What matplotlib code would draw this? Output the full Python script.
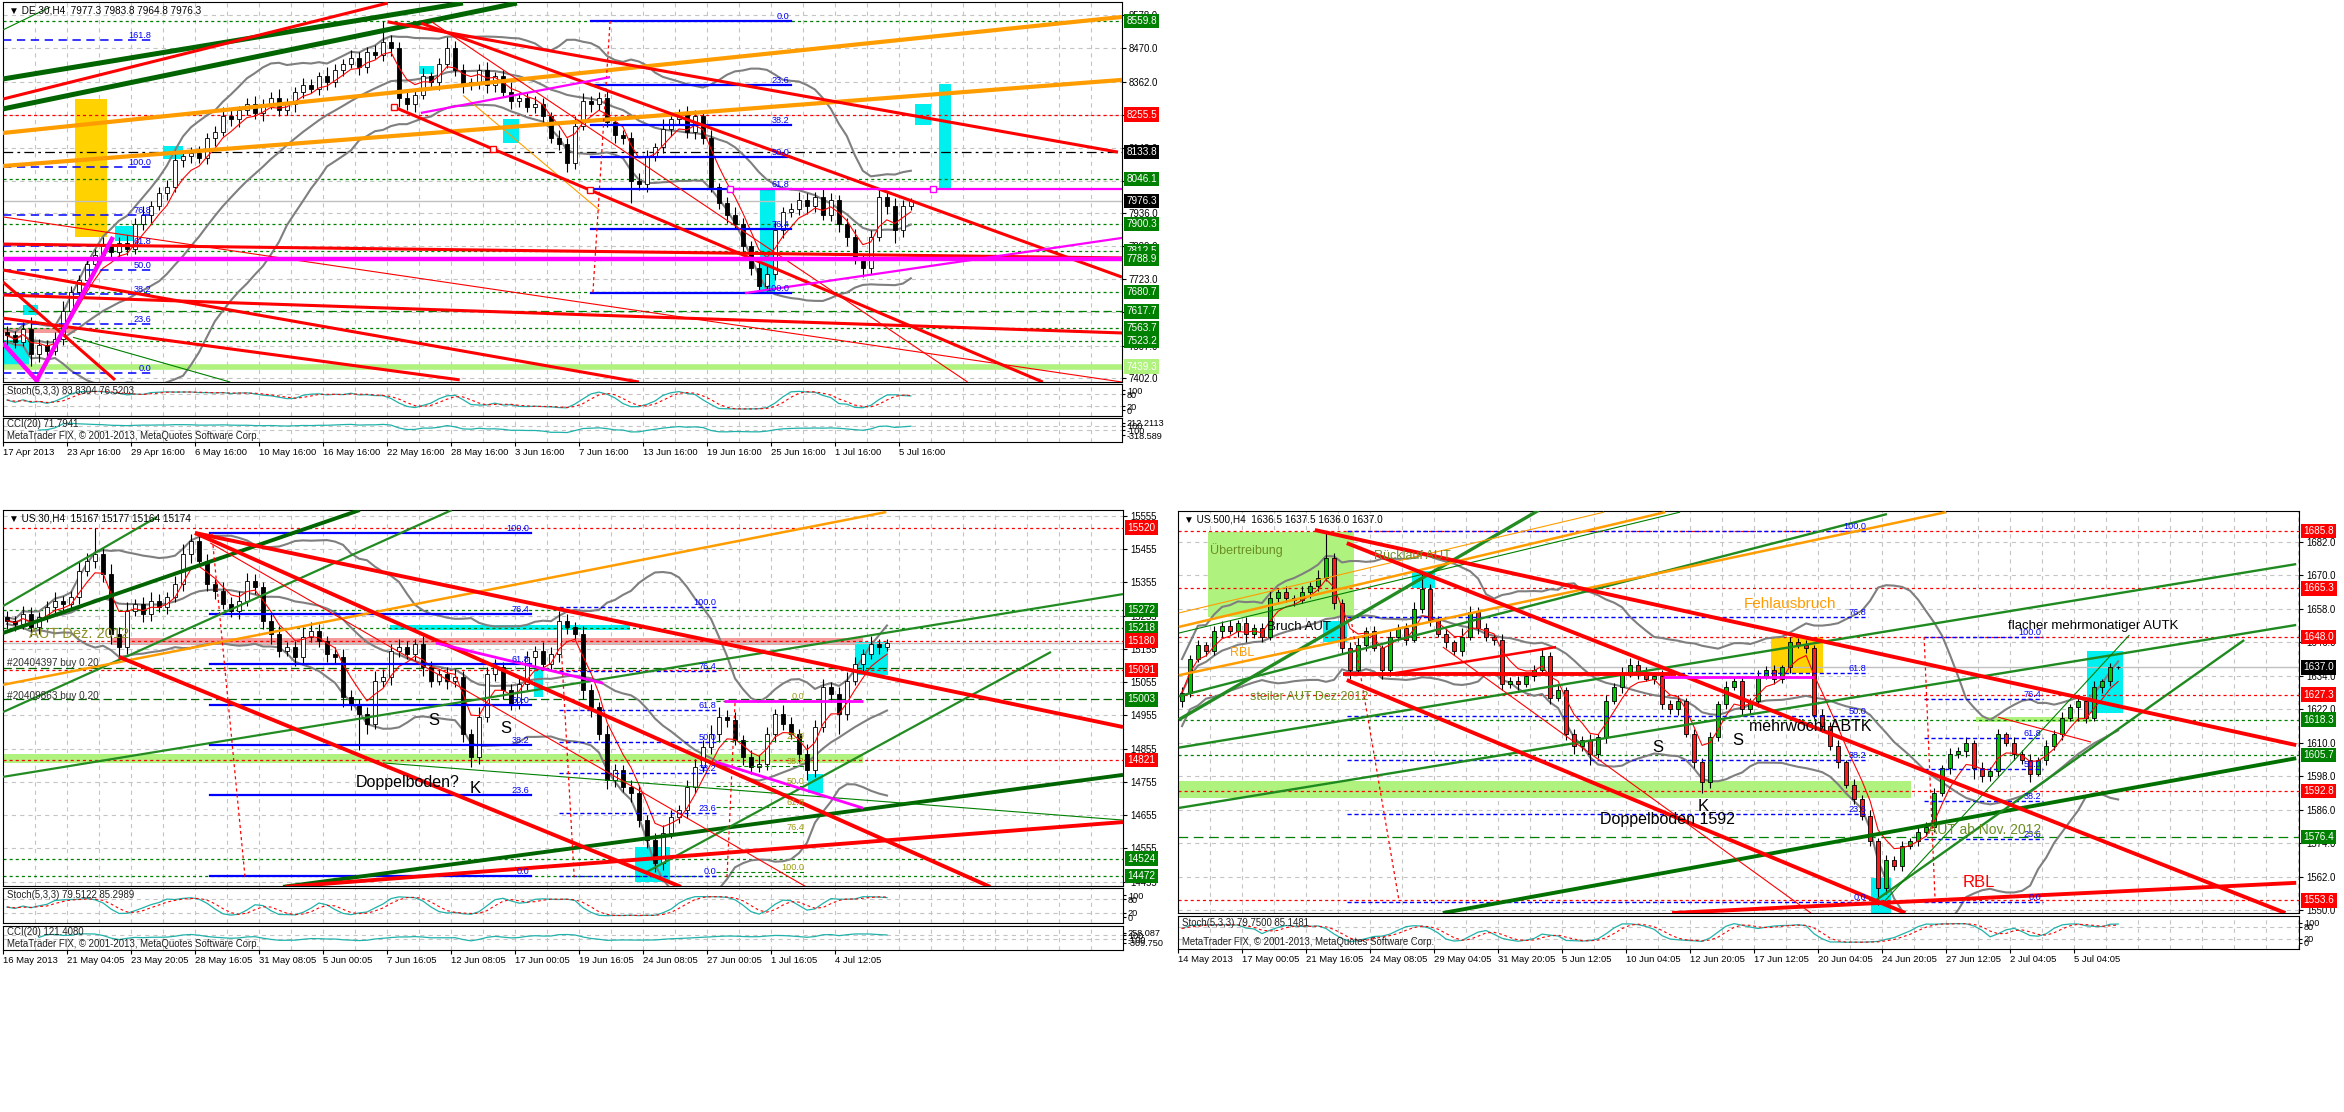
import numpy as np
import pandas as pd
import matplotlib
matplotlib.use("Agg")
import matplotlib.pyplot as plt
from matplotlib.patches import Rectangle

# ================= DE.30 H4 (top chart) =================
de_title = "\u25bc DE.30,H4  7977.3 7983.8 7964.8 7976.3"
de_stoch_txt = "Stoch(5,3,3) 83.8304 76.5203"
de_cci_txt = "CCI(20) 71.7941"
de_open0 = 7550
de_close = [7540, 7520, 7560, 7480, 7510, 7490, 7530, 7620, 7680, 7720,
            7770, 7800, 7830, 7810, 7840, 7820, 7900, 7930, 7960, 8000,
            8020, 8110, 8120, 8130, 8115, 8180, 8200, 8250, 8240, 8270,
            8290, 8260, 8290, 8310, 8270, 8290, 8330, 8350, 8340, 8380,
            8360, 8400, 8420, 8440, 8410, 8460, 8450, 8490, 8470, 8310,
            8290, 8320, 8380, 8360, 8420, 8470, 8400, 8350, 8360, 8400,
            8350, 8380, 8330, 8300, 8310, 8280, 8290, 8250, 8180, 8160,
            8100, 8220, 8300, 8290, 8310, 8230, 8190, 8180, 8040, 8030,
            8120, 8150, 8210, 8240, 8260, 8200, 8250, 8180, 8020, 7970,
            7930, 7900, 7830, 7760, 7700, 7740, 7880, 7940, 7950, 7980,
            7960, 7990, 7930, 7980, 7900, 7860, 7790, 7760, 7860, 7990,
            7960, 7880, 7960, 7976.3]
de_hi_ext = [20, 15, 25, 40, 20, 15, 20, 30, 20, 15,
             25, 20, 30, 15, 20, 25, 20, 30, 15, 20,
             25, 30, 15, 20, 25, 15, 20, 30, 20, 15,
             20, 25, 15, 20, 30, 20, 15, 25, 20, 15,
             30, 20, 15, 25, 20, 15, 20, 70, 25, 20,
             30, 20, 25, 15, 20, 37, 25, 20, 15, 20,
             25, 15, 20, 30, 15, 20, 25, 20, 15, 25,
             20, 30, 25, 15, 20, 25, 20, 15, 20, 25,
             20, 15, 30, 20, 15, 25, 20, 20, 25, 15,
             20, 25, 20, 15, 20, 25, 30, 15, 20, 25,
             20, 15, 25, 20, 15, 20, 25, 15, 20, 20,
             15, 25, 20, 8]
de_lo_ext = [30, 20, 15, 40, 25, 20, 15, 20, 25, 15,
             20, 25, 15, 20, 25, 20, 15, 20, 25, 15,
             20, 15, 25, 20, 15, 20, 25, 15, 20, 25,
             15, 20, 25, 15, 20, 15, 25, 20, 15, 20,
             25, 15, 20, 15, 25, 20, 15, 20, 25, 30,
             20, 25, 15, 20, 25, 15, 20, 25, 15, 20,
             25, 20, 15, 25, 20, 15, 20, 25, 15, 20,
             30, 20, 15, 25, 20, 15, 25, 20, 72, 20,
             25, 15, 20, 25, 15, 20, 25, 20, 15, 20,
             25, 15, 20, 25, 20, 15, 20, 25, 15, 20,
             25, 20, 15, 20, 25, 30, 20, 30, 20, 15,
             25, 40, 20, 12]
de_dates = ["17 Apr 2013", "23 Apr 16:00", "29 Apr 16:00", "6 May 16:00", "10 May 16:00",
            "16 May 16:00", "22 May 16:00", "28 May 16:00", "3 Jun 16:00", "7 Jun 16:00",
            "13 Jun 16:00", "19 Jun 16:00", "25 Jun 16:00", "1 Jul 16:00", "5 Jul 16:00"]
de_ticks = [7402.0, 7507.0, 7616.0, 7723.0, 7829.0, 7936.0, 8042.0, 8148.0, 8255.0, 8362.0, 8470.0, 8578.0]
de_lvl_green_dot = [8559.8, 8046.1, 7900.3, 7812.5, 7680.7, 7563.7, 7523.2]
de_lvl_green_dash = [7617.7]
de_lvl_red_dot = [8255.5]
de_lvl_black_dashdot = [8133.8]
de_last = [7976.3]
de_lvl_lime = [7439.3]
de_tag_green = [8559.8, 8046.1, 7900.3, 7812.5, 7788.9, 7680.7, 7617.7, 7563.7, 7523.2]
de_tag_red = [8255.5]
de_tag_black = [8133.8, 7976.3]
de_tag_lime = [7439.3]
de_green_thick = [(-0.5, 8371, 57.0, 8617), (-0.5, 8274, 63.75, 8617)]
de_green_thin = [(-0.5, 8530, 5.4, 8604), (8.25, 7534, 27.9, 7389)]
de_red_thick = [(-0.5, 8306, 47.6, 8617), (47.6, 8556, 138.9, 8134), (48.4, 8280, 129.5, 7389),
                (51.75, 8552, 139.4, 7729), (-0.5, 7836, 139.4, 7791), (-0.5, 7671, 139.4, 7548),
                (-0.5, 7752, 79.0, 7389), (-0.5, 7596, 56.6, 7396), (-0.5, 7713, 13.5, 7396)]
de_red_thin = [(-0.5, 7924, 139.4, 7389), (53.1, 8556, 120.1, 7389)]
de_red_dotted = [(75.4, 8559, 73.25, 7677)]
de_red_marks = [(48.4, 8280), (60.75, 8144), (72.9, 8011)]
de_orange_thick = [(-0.5, 8196, 139.4, 8572), (-0.5, 8089, 139.4, 8368)]
de_orange_thin = [(57.0, 8318, 74.1, 7945)]
de_magenta = [(90.4, 8014.5, 139.4, 8014.5), (92.25, 7677, 139.4, 7856), (51.75, 8261, 75.4, 8377)]
de_magenta_thick = [(-0.5, 7788.9, 139.4, 7788.9), (3.6, 7389, 13.25, 7859), (-0.5, 7515, 3.9, 7389)]
de_magenta_marks = [(90.4, 8014.5), (115.75, 8014.5)]
de_cyan = [(19.5, 22, 8111, 8153), (13.5, 16, 7845, 7894), (2, 3.9, 7606, 7639), (-0.5, 2.75, 7444, 7525),
           (51.5, 53.4, 8387, 8413), (62, 64, 8163, 8241), (94.1, 96, 7680, 8014),
           (113.5, 115.5, 8222, 8290), (116.5, 118, 8017, 8355)]
de_gold = [(8.5, 12.5, 7859, 8306)]
de_salmon = [(-0.5, 8.5, 7548, 7564)]
de_fib_dashed = (-0.5, 18.25, 7418.0, 8085.7)
de_fib_dashed_lv = [0.0, 23.6, 38.2, 50.0, 61.8, 76.8, 100.0, 161.8]
de_fib_solid = (73, 98, 8559.8, 7677.5)
de_fib_solid_lv = [0.0, 23.6, 38.2, 50.0, 61.8, 76.4, 100.0]
de_cci_ticks = [212.2113, 100, -100, -318.589]
de_cci_labels = ["212.2113", "100", "-100", "-318.589"]

# ================= US.30 H4 (bottom left) =================
bl_title = "\u25bc US.30,H4  15167 15177 15164 15174"
bl_stoch_txt = "Stoch(5,3,3) 79.5122 85.2989"
bl_cci_txt = "CCI(20) 121.4080"
bl_open0 = 15250
bl_close = [15240, 15230, 15260, 15220, 15250, 15280, 15300, 15290, 15310, 15390,
            15420, 15440, 15380, 15200, 15160, 15270, 15290, 15260, 15300, 15280,
            15310, 15350, 15440, 15480, 15420, 15350, 15330, 15290, 15270, 15300,
            15360, 15340, 15240, 15200, 15150, 15160, 15130, 15190, 15210, 15180,
            15140, 15130, 15010, 14990, 14960, 14930, 15060, 15070, 15150, 15160,
            15140, 15170, 15100, 15060, 15080, 15060, 15070, 14900, 14830, 14950,
            15080, 15100, 15030, 14990, 15050, 15130, 15150, 15110, 15140, 15240,
            15220, 15200, 15030, 14980, 14900, 14760, 14790, 14740, 14720, 14640,
            14580, 14510, 14600, 14650, 14670, 14740, 14800, 14860, 14900, 14950,
            14940, 14880, 14830, 14800, 14810, 14900, 14960, 14930, 14900, 14840,
            14790, 14920, 15040, 15020, 14960, 15060, 15110, 15140, 15170, 15160,
            15174]
bl_hi_ext = [20, 15, 25, 20, 15, 20, 25, 15, 20, 30,
             25, 80, 20, 30, 20, 25, 15, 20, 25, 20,
             15, 25, 30, 20, 25, 20, 15, 25, 20, 30,
             25, 20, 15, 20, 25, 15, 20, 30, 25, 20,
             15, 20, 25, 20, 15, 20, 30, 25, 20, 25,
             20, 15, 25, 20, 15, 20, 25, 20, 15, 30,
             20, 25, 15, 20, 25, 20, 15, 25, 20, 30,
             20, 15, 25, 20, 15, 25, 20, 15, 20, 25,
             15, 20, 25, 20, 15, 20, 25, 20, 25, 30,
             20, 25, 15, 20, 25, 20, 15, 25, 20, 15,
             30, 20, 25, 15, 20, 25, 20, 15, 25, 15,
             10]
bl_lo_ext = [25, 20, 15, 25, 20, 15, 20, 25, 15, 20,
             15, 20, 25, 30, 25, 20, 15, 25, 20, 15,
             20, 15, 20, 25, 15, 20, 25, 15, 20, 25,
             15, 20, 25, 30, 20, 15, 25, 20, 15, 20,
             25, 20, 30, 20, 110, 30, 15, 20, 25, 20,
             15, 20, 25, 20, 15, 25, 20, 25, 30, 20,
             15, 20, 25, 20, 15, 20, 25, 15, 20, 25,
             20, 15, 25, 30, 20, 25, 20, 15, 25, 20,
             25, 26, 20, 15, 20, 25, 20, 15, 20, 25,
             20, 15, 25, 20, 15, 20, 25, 20, 15, 25,
             30, 20, 15, 25, 60, 20, 15, 20, 15, 20,
             12]
bl_dates = ["16 May 2013", "21 May 04:05", "23 May 20:05", "28 May 16:05", "31 May 08:05",
            "5 Jun 00:05", "7 Jun 16:05", "12 Jun 08:05", "17 Jun 00:05", "19 Jun 16:05",
            "24 Jun 08:05", "27 Jun 00:05", "1 Jul 16:05", "4 Jul 12:05"]
bl_ticks = [14455, 14555, 14655, 14755, 14855, 14955, 15055, 15155, 15255, 15355, 15455, 15555]
bl_lvl_red_dot = [15520, 15180, 15091, 14821]
bl_lvl_green_dot = [15272, 15218, 14524, 14472]
bl_lvl_order = [15098, 15003]
bl_last = [15174]
bl_tag_green = [15272, 15218, 15003, 14524, 14472]
bl_tag_red = [15520, 15180, 15091, 14821]
bl_red_thick = [(23.5, 15504, 139.5, 14920), (23.5, 15504, 122.9, 14439),
                (14, 15131, 84.25, 14439), (34.75, 14439, 139.5, 14634)]
bl_red_thin = [(25.4, 15474, 99.9, 14439)]
bl_red_dotted = [(25.6, 15504, 29.75, 14469), (69.25, 15173, 70.9, 14469), (91, 14992, 90, 14469)]
bl_green_thick = [(-0.5, 15203, 44.1, 15573), (34.5, 14439, 139.5, 14776)]
bl_green_mid = [(-0.5, 15284, 18.75, 15552), (-0.5, 14965, 55.6, 15573),
                (-0.5, 14770, 139.5, 15320), (79.75, 14481, 130.5, 15146)]
bl_green_thin = [(47, 14812, 139.5, 14640)]
bl_orange = [(-0.5, 15047, 109.9, 15567)]
bl_magenta = [(89.6, 14999, 107, 14999), (88.6, 14815, 107, 14676), (53.6, 15173, 74.5, 15052)]
bl_cyan = [(47.9, 77.9, 15212, 15227), (65.9, 67, 15010, 15098), (78.5, 82.9, 14454, 14559),
           (100.1, 102, 14722, 14779), (106, 110.1, 15077, 15176)]
bl_salmon = [(13, 107, 15167, 15188)]
bl_lime = [(-0.5, 107, 14812, 14839)]
bl_fib_solid = (25.4, 65.5, 14472, 15503)
bl_fib_blue = (69, 88.9, 14472, 15280)
bl_fib_olive = (88.6, 99.9, 14999, 14484)
bl_fib_lv = [0.0, 23.6, 38.2, 50.0, 61.8, 76.4, 100.0]
bl_note_olive = [("AUT Dez. 2012", 2.75, 15200)]
bl_note_order = [("#20404397 buy 0.20", 0.0, 15113), ("#20409863 buy 0.20", 0.0, 15013)]
bl_note_big = [("Doppelboden?", 43.6, 14752)]
bl_note_letters = [("S", 53.4, 14941), ("S", 62.4, 14917), ("K", 58.5, 14734)]
bl_cci_ticks = [258.087, 100, -100, -309.75]
bl_cci_labels = ["258.087", "100", "-100", "-309.750"]

# ================= US.500 H4 (bottom right) =================
br_title = "\u25bc US.500,H4  1636.5 1637.5 1636.0 1637.0"
br_stoch_txt = "Stoch(5,3,3) 79.7500 85.1481"
br_open0 = 1625
br_close = [1628, 1640, 1645, 1643, 1650, 1652, 1650, 1653, 1649, 1651,
            1648, 1662, 1664, 1662, 1661, 1664, 1666, 1669, 1676, 1660,
            1644, 1636, 1645, 1650, 1644, 1636, 1648, 1651, 1647, 1658,
            1665, 1654, 1649, 1646, 1643, 1648, 1657, 1651, 1648, 1647,
            1631, 1632, 1631, 1634, 1636, 1641, 1626, 1629, 1613, 1609,
            1611, 1606, 1612, 1625, 1630, 1635, 1638, 1635, 1633, 1634,
            1624, 1622, 1625, 1613, 1603, 1596, 1612, 1624, 1630, 1632,
            1622, 1625, 1634, 1636, 1633, 1637, 1646, 1645, 1644, 1620,
            1616, 1609, 1603, 1595, 1590, 1584, 1575, 1558, 1568, 1566,
            1573, 1575, 1578, 1580, 1592, 1601, 1606, 1607, 1610, 1601,
            1598, 1600, 1613, 1610, 1606, 1604, 1599, 1604, 1609, 1613,
            1619, 1623, 1625, 1619, 1630, 1632, 1637, 1637]
br_hi_ext = [2, 1.5, 2, 1, 2, 1.5, 2, 1, 2, 1.5,
             2, 2.5, 1.5, 2, 1, 2, 1.5, 3, 9, 2,
             1.5, 2, 3, 1.5, 2, 1, 2, 1.5, 2, 2.5,
             6, 2, 1.5, 2, 1, 3, 2, 1.5, 2, 1,
             2, 1.5, 2, 1, 2, 3, 1.5, 2, 1, 2,
             1.5, 2, 1, 2, 1.5, 2, 2.5, 1.5, 2, 1,
             2, 1.5, 2, 1, 2, 1.5, 2, 1, 2, 1.5,
             2, 1, 2, 1.5, 2, 1, 2, 1.5, 2, 1,
             2, 1.5, 2, 1, 2, 1.5, 2, 1, 2, 1.5,
             2, 1, 2, 1.5, 2, 1, 2, 1.5, 2, 1,
             2, 1.5, 2, 1, 2, 1.5, 2, 1, 2, 1.5,
             2, 1, 2, 1.5, 2, 1, 1.5, 0.5]
br_lo_ext = [2, 1.5, 1, 2, 1.5, 2, 1, 2, 3, 1.5,
             2, 1, 2, 1.5, 2, 1, 2, 1.5, 1, 2,
             2, 3, 1.5, 2, 1, 3, 2, 1.5, 2, 1,
             1.5, 2, 1, 2, 1.5, 2, 1, 2, 1.5, 2,
             2, 1.5, 2, 1, 2, 1.5, 2, 1, 2, 3,
             2, 4, 1.5, 2, 1, 2, 1.5, 2, 1, 2,
             2, 1.5, 2, 1, 2, 4, 2, 1.5, 2, 1,
             2, 1.5, 2, 1, 2, 1.5, 2, 1, 2, 1.5,
             2, 1.5, 2, 1, 2, 1.5, 2, 6, 2, 1.5,
             2, 1, 2, 1.5, 2, 1, 2, 1.5, 2, 4,
             2, 1.5, 2, 1, 2, 1.5, 3, 1, 2, 1.5,
             2, 1, 5, 2, 1, 2, 1.5, 0.5]
br_dates = ["14 May 2013", "17 May 00:05", "21 May 16:05", "24 May 08:05", "29 May 04:05",
            "31 May 20:05", "5 Jun 12:05", "10 Jun 04:05", "12 Jun 20:05", "17 Jun 12:05",
            "20 Jun 04:05", "24 Jun 20:05", "27 Jun 12:05", "2 Jul 04:05", "5 Jul 04:05"]
br_ticks = [1550.0, 1562.0, 1574.0, 1586.0, 1598.0, 1610.0, 1622.0, 1634.0, 1646.0, 1658.0, 1670.0, 1682.0]
br_lvl_red_dot = [1685.8, 1665.3, 1648.0, 1627.3, 1592.8, 1553.6]
br_lvl_green_dot = [1618.3, 1605.7]
br_lvl_green_dash = [1576.4]
br_last = [1637.0]
br_tag_red = [1685.8, 1665.3, 1648.0, 1627.3, 1592.8, 1553.6]
br_tag_green = [1618.3, 1605.7, 1576.4]
br_tag_black = [1637.0]
br_red_thick = [(16.6, 1686.2, 139.25, 1609.2), (20.6, 1681.5, 137.9, 1549.1), (20.6, 1632.5, 90.4, 1549.1),
                (61.25, 1549.1, 139.25, 1559.9), (20.1, 1634.6, 61.75, 1634.6)]
br_red_mid = [(25, 1634.2, 46.75, 1644.3)]
br_red_thin = [(32.6, 1644.3, 78.6, 1549.1), (102, 1619.2, 113.6, 1610.3)]
br_red_dotted = [(21.1, 1654.7, 27.1, 1553.8), (92.75, 1647.9, 94.1, 1554.9)]
br_green_thick = [(32.6, 1549.1, 139.25, 1604.5)]
br_green_steep = [(-0.4, 1618.3, 44.6, 1693.3)]
br_green_mid = [(-0.4, 1626.7, 88.1, 1691.9), (-0.4, 1608.3, 139.25, 1674.0),
                (-0.4, 1586.7, 139.25, 1652.2), (86.25, 1552.7, 132.75, 1646.8)]
br_green_thin = [(87.6, 1552.7, 118.4, 1648.6), (-0.4, 1649.3, 62.25, 1692.6)]
br_orange = [(-0.4, 1651.5, 60.4, 1692.6), (-0.4, 1634.2, 95.5, 1692.6)]
br_orange_thin = [(-0.4, 1656.5, 52.75, 1692.6)]
br_magenta = [(60.1, 1633.5, 79, 1633.5)]
br_cyan = [(17.6, 20.6, 1646.1, 1653.6), (28.75, 31.6, 1665.4, 1671.5),
           (86.1, 88.6, 1549.1, 1561.7), (113.1, 117.6, 1620.6, 1642.9)]
br_gold = [(73.6, 80.1, 1635.0, 1647.9)]
br_lime = [(3.25, 21.5, 1655.1, 1685.5), (-0.4, 91.1, 1590.3, 1596.4), (99.25, 113.6, 1617.3, 1619.2)]
br_fib_a = (20.6, 85.75, 1553.1, 1685.8)
br_fib_a_lv = [0.0, 23.6, 38.2, 50.0, 61.8, 76.8, 100.0]
br_fib_b = (92.75, 107.6, 1553.1, 1647.9)
br_fib_b_lv = [0.0, 23.6, 38.2, 50.0, 61.8, 76.4, 100.0]
br_note_olive = [("\u00dcbertreibung", 3.5, 1679.0, 9), ("R\u00fccklauf AUT", 24, 1676.9, 9),
                 ("steiler AUT Dez:2012", 8.5, 1626.4, 9), ("AUT ab Nov. 2012", 93.25, 1578.8, 10)]
br_note_orange = [("RBL", 6, 1642.1, 9), ("Fehlausbruch", 70.25, 1659.7, 11)]
br_note_red = [("RBL", 97.6, 1559.9, 12)]
br_note_black = [("Bruch AUT", 10.6, 1651.5, 9.5), ("mehrw\u00f6chi ABTK", 70.9, 1616.0, 11.5),
                 ("Doppelboden 1592", 52.25, 1582.7, 11.5), ("flacher mehrmonatiger AUTK", 103.25, 1651.8, 9.5)]
br_note_letters = [("S", 59.5, 1608.5), ("S", 69.5, 1610.7), ("K", 65.1, 1587.4)]

copyright_txt = "MetaTrader FIX, \u00a9 2001-2013, MetaQuotes Software Corp."

# ================= drawing helpers =================
plt.rcParams['font.family'] = ['Liberation Sans', 'DejaVu Sans']
plt.rcParams['lines.scale_dashes'] = False
FS = 6.6
W, H = 2344, 1112
DOT = (0, (2.2, 2.2))
GRID = dict(color='#c4c4c4', lw=0.8, ls=(0, (3, 3)), zorder=0)
C_CYAN, C_LIME, C_GOLD, C_SALMON = '#00f0f0', '#b0f27e', '#ffd200', '#f59a9a'
C_ORANGE, C_OLIVE, C_OLIVEDRAB = '#ff9c00', '#8f8f2a', '#6b8e23'

fig = plt.figure(figsize=(W / 100, H / 100), dpi=100)
fig.patch.set_facecolor('white')


def place(x0, y0, x1, y1):
    return fig.add_axes([x0 / W, 1 - y1 / H, (x1 - x0) / W, (y1 - y0) / H])


def setup(ax, xmax, ylim, ticks, fmt):
    ax.set_xlim(-0.5, xmax)
    ax.set_ylim(*ylim)
    ax.yaxis.tick_right()
    ax.set_yticks(ticks)
    ax.set_yticklabels([fmt.format(t) for t in ticks], fontsize=FS + 0.3)
    ax.tick_params(axis='y', length=3, width=0.8, pad=2)
    ax.set_xticks([])
    for t in ticks:
        ax.axhline(t, **GRID)
    for gx in np.arange(3.5, xmax, 4):
        ax.axvline(gx, **GRID)


def ohlc(open0, close, hi_ext, lo_ext):
    c = np.array(close, float)
    o = np.r_[open0, c[:-1]]
    hi = np.maximum(o, c) + np.array(hi_ext, float)
    lo = np.minimum(o, c) - np.array(lo_ext, float)
    return o, hi, lo, c


def draw_candles(ax, o, hi, lo, c, up, dn):
    x = np.arange(len(c))
    ax.vlines(x, lo, hi, color='black', lw=0.8, zorder=4)
    bull = c >= o
    body = np.abs(c - o)
    ax.bar(x[bull], body[bull], bottom=o[bull], width=0.5, color=up, edgecolor='black', lw=0.6, zorder=4.5)
    ax.bar(x[~bull], body[~bull], bottom=c[~bull], width=0.5, color=dn, edgecolor='black', lw=0.6, zorder=4.5)


def draw_bands(ax, c):
    s = pd.Series(c)
    mid = s.rolling(20, min_periods=1).mean()
    sd = s.rolling(20, min_periods=2).std(ddof=0).bfill()
    x = np.arange(len(c))
    for y in (mid + 2 * sd, mid, mid - 2 * sd):
        ax.plot(x, y, color='#7f7f7f', lw=1.5, zorder=3.5)
    ax.plot(x, s.ewm(span=5).mean(), color='red', lw=0.8, zorder=5)


def segs(ax, lines, color, lw, ls='-', z=6):
    for i0, p0, i1, p1 in lines:
        ax.plot([i0, i1], [p0, p1], color=color, lw=lw, ls=ls, zorder=z, solid_capstyle='butt')


def rects(ax, boxes, color, z=1):
    for i0, i1, p0, p1 in boxes:
        ax.add_patch(Rectangle((i0, p0), i1 - i0, p1 - p0, fc=color, ec='none', zorder=z))


def levels(ax, prices, color, ls, lw=0.9, z=2):
    for p in prices:
        ax.axhline(p, color=color, lw=lw, ls=ls, zorder=z)


def tags(ax, prices, fc, fmt):
    for p in prices:
        ax.text(1.004, p, fmt.format(p), transform=ax.get_yaxis_transform(), ha='left', va='center',
                fontsize=FS + 0.6, color='white', zorder=30, clip_on=False,
                bbox=dict(boxstyle='square,pad=0.22', fc=fc, ec='none'))


def fib(ax, spec, lv, color, ls, lw, tc):
    i0, i1, p0, p100 = spec
    for v in lv:
        p = p0 + (p100 - p0) * v / 100
        ax.plot([i0, i1], [p, p], color=color, lw=lw, ls=ls, zorder=5.5)
        ax.text(i1 - 0.2, p, f"{v:.1f}", ha='right', va='bottom', fontsize=FS, color=tc, zorder=7)


def notes(ax, items, color, size, ha='left'):
    for it in items:
        txt, i, p = it[0], it[1], it[2]
        fs = it[3] if len(it) > 3 else size
        ax.text(i, p, txt, ha=ha, va='center', fontsize=fs, color=color, zorder=8)


def stochastic(hi, lo, c):
    hh = pd.Series(hi).rolling(5, min_periods=1).max()
    ll = pd.Series(lo).rolling(5, min_periods=1).min()
    num = (pd.Series(c) - ll).rolling(3, min_periods=1).sum()
    den = (hh - ll).rolling(3, min_periods=1).sum()
    main = 100 * num / den
    return main, main.rolling(3, min_periods=1).mean()


def cci(hi, lo, c):
    tp = pd.Series((hi + lo + c) / 3)
    sma = tp.rolling(20, min_periods=5).mean()
    md = tp.rolling(20, min_periods=5).apply(lambda v: np.mean(np.abs(v - v.mean())), raw=True)
    return (tp - sma) / (0.015 * md)


def sub_setup(ax, xmax, ylim, ticks, labels, hl):
    ax.set_xlim(-0.5, xmax)
    ax.set_ylim(*ylim)
    ax.yaxis.tick_right()
    ax.set_yticks(ticks)
    ax.set_yticklabels(labels, fontsize=FS)
    ax.tick_params(axis='y', length=2, pad=1.5)
    ax.set_xticks([])
    for h in hl:
        ax.axhline(h, **GRID)
    for gx in np.arange(3.5, xmax, 4):
        ax.axvline(gx, **GRID)


def stoch_panel(ax, xmax, ylim, hi, lo, c, label):
    sub_setup(ax, xmax, ylim, [100, 80, 20, 0], ["100", "80", "20", "0"], [20, 80])
    m, s = stochastic(hi, lo, c)
    x = np.arange(len(c))
    ax.plot(x, m, color='#20b2aa', lw=0.9, zorder=3)
    ax.plot(x, s, color='red', lw=0.8, ls=(0, (2, 2)), zorder=3)
    ax.text(0.004, 0.93, label, transform=ax.transAxes, ha='left', va='top', fontsize=FS + 0.3, color='#202020')


def cci_panel(ax, xmax, ylim, hi, lo, c, ticks, labels, label):
    sub_setup(ax, xmax, ylim, ticks, labels, [100, -100])
    x = np.arange(len(c))
    ax.plot(x, cci(hi, lo, c), color='#20b2aa', lw=0.9, zorder=3)
    ax.text(0.004, 0.97, label, transform=ax.transAxes, ha='left', va='top', fontsize=FS + 0.3, color='#202020')
    ax.text(0.004, 0.05, copyright_txt, transform=ax.transAxes, ha='left', va='bottom', fontsize=FS + 0.3, color='#202020')


def dates(ax, labels):
    ax.set_xticks([8 * k - 0.5 for k in range(len(labels))])
    ax.set_xticklabels(labels, fontsize=FS + 0.2, ha='left')
    ax.tick_params(axis='x', length=3, pad=1.5)


def title(ax, txt):
    ax.text(0.005, 0.992, txt, transform=ax.transAxes, ha='left', va='top', fontsize=FS + 0.6, zorder=9)


# ================= top chart =================
ax = place(3, 2, 1122, 382)
setup(ax, 139.4, (7389.1, 8620.4), de_ticks, "{:.1f}")
o, hi, lo, c = ohlc(de_open0, de_close, de_hi_ext, de_lo_ext)
rects(ax, de_gold, C_GOLD)
rects(ax, de_cyan, C_CYAN)
rects(ax, de_salmon, C_SALMON)
levels(ax, de_lvl_lime, C_LIME, '-', lw=4, z=1.5)
levels(ax, de_lvl_green_dot, '#008000', DOT)
levels(ax, de_lvl_green_dash, '#008000', (0, (6, 3)))
levels(ax, de_lvl_red_dot, 'red', DOT)
levels(ax, de_lvl_black_dashdot, 'black', (0, (7, 3, 2, 3)))
levels(ax, de_last, '#c0c0c0', '-', lw=1.0)
draw_bands(ax, c)
draw_candles(ax, o, hi, lo, c, 'white', 'black')
segs(ax, de_green_thick, '#006400', 3.6)
segs(ax, de_green_thin, '#008000', 0.8)
segs(ax, de_orange_thick, C_ORANGE, 3.0)
segs(ax, de_orange_thin, C_ORANGE, 0.8)
segs(ax, de_red_thick, 'red', 2.2)
segs(ax, de_red_thin, 'red', 0.8)
segs(ax, de_red_dotted, 'red', 0.9, DOT)
segs(ax, de_magenta, '#ff00ff', 1.6)
segs(ax, de_magenta_thick, '#ff00ff', 3.2)
ax.plot(*zip(*de_red_marks), ls='none', marker='s', ms=4, mfc='white', mec='red', mew=1, zorder=7)
ax.plot(*zip(*de_magenta_marks), ls='none', marker='s', ms=4, mfc='white', mec='#ff00ff', mew=1, zorder=7)
fib(ax, de_fib_dashed, de_fib_dashed_lv, '#0000ff', (0, (6, 4)), 1.1, '#0000ff')
fib(ax, de_fib_solid, de_fib_solid_lv, '#0000ff', '-', 1.6, '#0000ff')
tags(ax, de_tag_green, '#008000', "{:.1f}")
tags(ax, de_tag_red, 'red', "{:.1f}")
tags(ax, de_tag_black, 'black', "{:.1f}")
tags(ax, de_tag_lime, C_LIME, "{:.1f}")
title(ax, de_title)
ax_s = place(3, 384, 1122, 416)
stoch_panel(ax_s, 139.4, (-30, 130), hi, lo, c, de_stoch_txt)
ax_c = place(3, 418, 1122, 442)
cci_panel(ax_c, 139.4, (-628, 433), hi, lo, c, de_cci_ticks, de_cci_labels, de_cci_txt)
dates(ax_c, de_dates)

# ================= bottom-left chart =================
ax = place(3, 510, 1123, 886)
setup(ax, 139.5, (14441.6, 15573.1), bl_ticks, "{:.0f}")
o, hi, lo, c = ohlc(bl_open0, bl_close, bl_hi_ext, bl_lo_ext)
rects(ax, bl_lime, C_LIME)
rects(ax, bl_salmon, C_SALMON)
rects(ax, bl_cyan, C_CYAN)
levels(ax, bl_lvl_red_dot, 'red', DOT)
levels(ax, bl_lvl_green_dot, '#008000', DOT)
levels(ax, bl_lvl_order, '#006400', (0, (6, 3)))
levels(ax, bl_last, '#c0c0c0', '-', lw=1.0)
draw_bands(ax, c)
draw_candles(ax, o, hi, lo, c, 'white', 'black')
segs(ax, bl_green_thick, '#006400', 2.8)
segs(ax, bl_green_mid, '#228b22', 1.6)
segs(ax, bl_green_thin, '#008000', 0.8)
segs(ax, bl_orange, C_ORANGE, 1.8)
segs(ax, bl_red_thick, 'red', 2.8)
segs(ax, bl_red_thin, 'red', 0.8)
segs(ax, bl_red_dotted, 'red', 0.9, DOT)
segs(ax, bl_magenta, '#ff00ff', 2.0)
fib(ax, bl_fib_solid, bl_fib_lv, '#0000ff', '-', 1.6, '#0000ff')
fib(ax, bl_fib_blue, bl_fib_lv, '#0000ff', (0, (3, 2)), 1.0, '#0000ff')
fib(ax, bl_fib_olive, bl_fib_lv, '#008000', (0, (3, 2)), 0.8, '#9a9a10')
notes(ax, bl_note_olive, C_OLIVE, 10.5)
notes(ax, bl_note_order, '#303030', FS + 0.6)
notes(ax, bl_note_big, 'black', 11.5)
notes(ax, bl_note_letters, 'black', 12, ha='center')
tags(ax, bl_tag_green, '#008000', "{:.0f}")
tags(ax, bl_tag_red, 'red', "{:.0f}")
title(ax, bl_title)
ax_s = place(3, 888, 1123, 923)
stoch_panel(ax_s, 139.5, (-27, 132), hi, lo, c, bl_stoch_txt)
ax_c = place(3, 926, 1123, 950)
cci_panel(ax_c, 139.5, (-724, 638), hi, lo, c, bl_cci_ticks, bl_cci_labels, bl_cci_txt)
dates(ax_c, bl_dates)

# ================= bottom-right chart =================
ax = place(1178, 511, 2299, 913)
setup(ax, 139.6, (1549.1, 1693.0), br_ticks, "{:.1f}")
o, hi, lo, c = ohlc(br_open0, br_close, br_hi_ext, br_lo_ext)
rects(ax, br_lime, C_LIME)
rects(ax, br_cyan, C_CYAN)
rects(ax, br_gold, C_GOLD)
levels(ax, br_lvl_red_dot, 'red', DOT)
levels(ax, br_lvl_green_dot, '#008000', DOT)
levels(ax, br_lvl_green_dash, '#008000', (0, (7, 4)))
levels(ax, br_last, '#c0c0c0', '-', lw=1.0)
draw_bands(ax, c)
draw_candles(ax, o, hi, lo, c, '#00c800', '#ff1a1a')
segs(ax, br_green_thick, '#007000', 2.8)
segs(ax, br_green_steep, '#228b22', 2.4)
segs(ax, br_green_mid, '#1f8a1f', 1.7)
segs(ax, br_green_thin, '#008000', 0.8)
segs(ax, br_orange, C_ORANGE, 1.8)
segs(ax, br_orange_thin, C_ORANGE, 0.8)
segs(ax, br_red_thick, 'red', 2.8)
segs(ax, br_red_mid, 'red', 1.8)
segs(ax, br_red_thin, 'red', 0.8)
segs(ax, br_red_dotted, 'red', 0.9, DOT)
segs(ax, br_magenta, '#ff00ff', 2.0)
fib(ax, br_fib_a, br_fib_a_lv, '#0000ff', (0, (3, 2)), 1.0, '#0000ff')
fib(ax, br_fib_b, br_fib_b_lv, '#0000ff', (0, (3, 2)), 1.0, '#0000ff')
notes(ax, br_note_olive, C_OLIVEDRAB, 9)
notes(ax, br_note_orange, C_ORANGE, 9)
notes(ax, br_note_red, 'red', 12)
notes(ax, br_note_black, 'black', 10)
notes(ax, br_note_letters, 'black', 12, ha='center')
tags(ax, br_tag_red, 'red', "{:.1f}")
tags(ax, br_tag_green, '#008000', "{:.1f}")
tags(ax, br_tag_black, 'black', "{:.1f}")
title(ax, br_title)
ax_s = place(1178, 916, 2299, 949)
stoch_panel(ax_s, 139.6, (-30, 133), hi, lo, c, br_stoch_txt)
ax_s.text(0.004, 0.05, copyright_txt, transform=ax_s.transAxes, ha='left', va='bottom',
          fontsize=FS + 0.3, color='#202020')
dates(ax_s, br_dates)

fig.savefig("out.png", dpi=100)
